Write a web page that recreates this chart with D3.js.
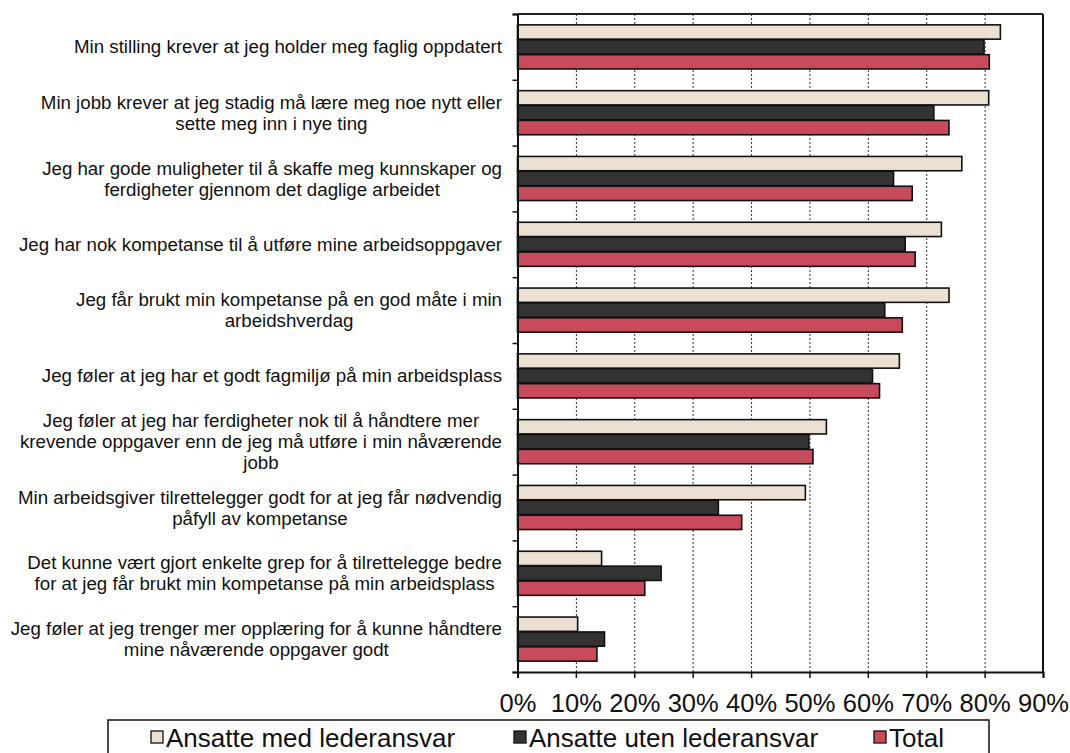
<!DOCTYPE html>
<html><head><meta charset="utf-8">
<script src="https://cdn.jsdelivr.net/npm/d3@7"></script>
<style>
html,body{margin:0;padding:0;background:#fff;}
svg{display:block;font-family:"Liberation Sans",Arial,sans-serif;}
</style></head>
<body>
<svg id="chart" width="1070" height="753"></svg>
<script>
const categories = [
  "Min stilling krever at jeg holder meg faglig oppdatert",
  "Min jobb krever at jeg stadig må lære meg noe nytt eller\nsette meg inn i nye ting",
  "Jeg har gode muligheter til å skaffe meg kunnskaper og\nferdigheter gjennom det daglige arbeidet",
  "Jeg har nok kompetanse til å utføre mine arbeidsoppgaver",
  "Jeg får brukt min kompetanse på en god måte i min\narbeidshverdag",
  "Jeg føler at jeg har et godt fagmiljø på min arbeidsplass",
  "Jeg føler at jeg har ferdigheter nok til å håndtere mer\nkrevende oppgaver enn de jeg må utføre i min nåværende\njobb",
  "Min arbeidsgiver tilrettelegger godt for at jeg får nødvendig\npåfyll av kompetanse",
  "Det kunne vært gjort enkelte grep for å tilrettelegge bedre\nfor at jeg får brukt min kompetanse på min arbeidsplass",
  "Jeg føler at jeg trenger mer opplæring for å kunne håndtere\nmine nåværende oppgaver godt"
];
const seriesNames = ["Ansatte med lederansvar", "Ansatte uten lederansvar", "Total"];
const medLederansvar = [82.7, 80.7, 76.1, 72.6, 73.9, 65.4, 52.9, 49.3, 14.4, 10.3];
const utenLederansvar = [79.9, 71.3, 64.4, 66.4, 62.9, 60.8, 49.9, 34.4, 24.6, 14.9];
const totalValues = [80.8, 73.9, 67.6, 68.1, 65.9, 62.0, 50.6, 38.4, 21.8, 13.6];
const xTicks = [0, 10, 20, 30, 40, 50, 60, 70, 80, 90];
const gridTicks = [10, 20, 30, 40, 50, 60, 70, 80];
const seriesColors = ["#EBE0D1", "#333333", "#C84B5B"];

const seriesValues = [medLederansvar, utenLederansvar, totalValues];

const svg = d3.select("#chart");
svg.append("rect").attr("width", 1070).attr("height", 753).attr("fill", "#fff");

const L = 517.5, R = 1043, T = 14, B = 672;
const x = d3.scaleLinear().domain([0, 90]).range([L, R]);
const y = d3.scaleBand().domain(d3.range(categories.length)).range([T, B]).padding(0);
const bw = y.bandwidth();
const yi = d3.scaleBand().domain(d3.range(seriesNames.length))
  .range([bw * 0.165, bw * 0.835]).paddingInner(0.04);
const yEdge = d3.scaleLinear().domain([0, categories.length]).range([T, B]);

// gridlines
const grid = svg.append("g").attr("transform", `translate(0,${B})`)
  .call(d3.axisBottom(x).tickValues(gridTicks).tickSize(-(B - T)).tickFormat(""));
grid.select(".domain").remove();
grid.selectAll("line").attr("stroke", "#333").attr("stroke-width", 1).attr("stroke-dasharray", "2,2");

// border top & right
svg.append("line").attr("x1", L).attr("x2", R).attr("y1", T).attr("y2", T)
  .attr("stroke", "#222").attr("stroke-width", 2);
svg.append("line").attr("x1", R).attr("x2", R).attr("y1", T).attr("y2", B)
  .attr("stroke", "#111").attr("stroke-width", 2);

// bars
const groups = svg.append("g").selectAll("g").data(categories).join("g")
  .attr("transform", (d, i) => `translate(0,${y(i)})`);
groups.selectAll("rect").data((d, i) => seriesValues.map((s, k) => ({k, v: s[i]})))
  .join("rect")
  .attr("x", x(0))
  .attr("y", d => yi(d.k))
  .attr("width", d => x(d.v) - x(0))
  .attr("height", yi.bandwidth())
  .attr("fill", d => seriesColors[d.k])
  .attr("stroke", "#111")
  .attr("stroke-width", 1.6);

// x axis
const xAxis = svg.append("g").attr("transform", `translate(0,${B})`)
  .call(d3.axisBottom(x).tickValues(xTicks).tickSize(6).tickPadding(16).tickFormat(d => d + "%"));
xAxis.select(".domain").attr("stroke", "#111").attr("stroke-width", 2);
xAxis.selectAll("line").attr("stroke", "#111").attr("stroke-width", 1.5);
xAxis.selectAll("text").attr("font-size", "25.5px").attr("fill", "#111")
  .attr("font-family", "'Liberation Sans',Arial,sans-serif");

// y axis (boundary ticks)
const yAxis = svg.append("g").attr("transform", `translate(${L},0)`)
  .call(d3.axisLeft(yEdge).tickValues(d3.range(categories.length + 1)).tickSize(5).tickFormat(""));
yAxis.select(".domain").attr("stroke", "#111").attr("stroke-width", 2);
yAxis.selectAll("line").attr("stroke", "#111").attr("stroke-width", 1.5);

// category labels
const lh = 21;
const labelG = svg.append("g").attr("font-size", "18.7px").attr("fill", "#111");
categories.forEach((c, i) => {
  const lines = c.split("\n");
  const cy = y(i) + bw / 2;
  const t = labelG.append("text").attr("text-anchor", "middle");
  lines.forEach((ln, j) => {
    t.append("tspan").attr("x", 0)
      .attr("y", cy + (j - (lines.length - 1) / 2) * lh + 6.5)
      .text(ln);
  });
  let maxW = 0;
  t.selectAll("tspan").each(function() { maxW = Math.max(maxW, this.getComputedTextLength()); });
  const cx = 502 - maxW / 2;
  t.selectAll("tspan").attr("x", cx);
});

// legend
const lg = svg.append("g");
lg.append("rect").attr("x", 108).attr("y", 720).attr("width", 881).attr("height", 50)
  .attr("fill", "#fff").attr("stroke", "#111").attr("stroke-width", 1.5);
const legX = [151, 514, 874];
seriesNames.forEach((n, k) => {
  lg.append("rect").attr("x", legX[k]).attr("y", 731).attr("width", 12).attr("height", 12)
    .attr("fill", seriesColors[k]).attr("stroke", "#111").attr("stroke-width", 1.3);
  lg.append("text").attr("x", legX[k] + 15).attr("y", 747).attr("font-size", "26px")
    .attr("fill", "#111").text(n);
});
</script>
</body></html>
